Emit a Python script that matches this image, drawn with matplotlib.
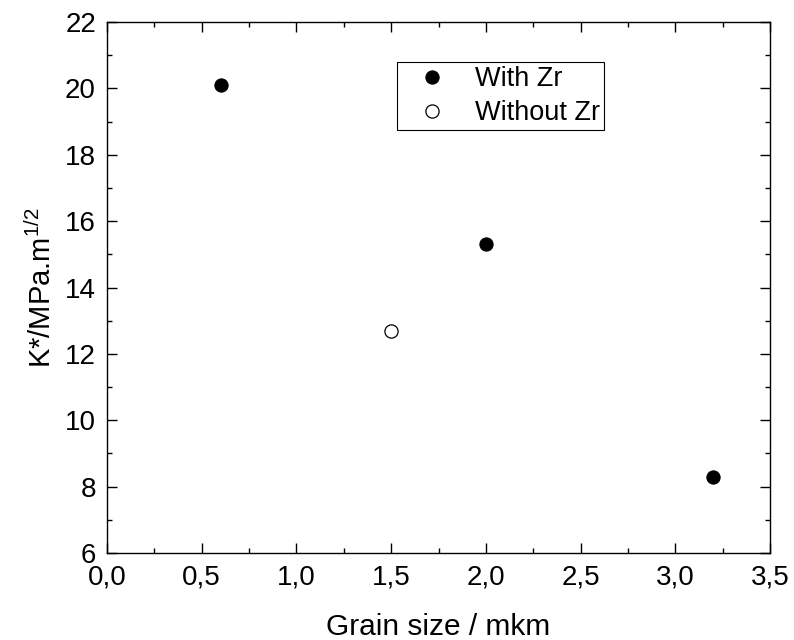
import matplotlib
matplotlib.use("Agg")
import matplotlib.pyplot as plt
from matplotlib.ticker import MultipleLocator, FuncFormatter

plt.rcParams['font.family'] = ['Liberation Sans', 'DejaVu Sans']
plt.rcParams['mathtext.fontset'] = 'custom'
plt.rcParams['mathtext.rm'] = 'Liberation Sans'
plt.rcParams['mathtext.it'] = 'Liberation Sans'

with_zr_x = [0.6, 2.0, 3.2]
with_zr_y = [20.1, 15.3, 8.3]
without_zr_x = [1.5]
without_zr_y = [12.7]

fig = plt.figure(figsize=(7.94, 6.4), dpi=100)
ax = fig.add_axes([0.1348, 0.1359, 0.835, 0.8297])

ax.plot(with_zr_x, with_zr_y, 'o', mfc='black', mec='black', mew=0.8, ms=9.5, ls='none', label='With Zr')
ax.plot(without_zr_x, without_zr_y, 'o', mfc='white', mec='black', mew=0.9, ms=9.5, ls='none', label='Without Zr')

ax.set_xlim(0, 3.5)
ax.set_ylim(6, 22)
ax.xaxis.set_major_locator(MultipleLocator(0.5))
ax.xaxis.set_minor_locator(MultipleLocator(0.25))
ax.yaxis.set_major_locator(MultipleLocator(2))
ax.yaxis.set_minor_locator(MultipleLocator(1))
ax.xaxis.set_major_formatter(FuncFormatter(lambda v, p: f"{v:.1f}".replace('.', ',')))

ax.tick_params(which='both', direction='in', top=True, right=True, labelsize=20, width=1)
ax.tick_params(which='major', length=7)
ax.tick_params(which='minor', length=3.5)
ax.tick_params(axis='x', which='major', pad=8.5)
ax.tick_params(axis='y', which='major', pad=8)
for s in ax.spines.values():
    s.set_linewidth(1)

ax.set_xlabel('Grain size / mkm', fontsize=21.5, labelpad=16)
ax.set_ylabel('K*/MPa.m$^{1/2}$', fontsize=21, labelpad=6)

leg = ax.legend(loc='upper left', bbox_to_anchor=(0.4374, 0.9247), fontsize=19.5,
                frameon=True, fancybox=False, edgecolor='black', framealpha=1,
                handletextpad=0.44, borderpad=0.15, labelspacing=0.3, handlelength=2.3,
                borderaxespad=0)
leg.get_frame().set_linewidth(0.8)

fig.savefig('out.png', dpi=100)
